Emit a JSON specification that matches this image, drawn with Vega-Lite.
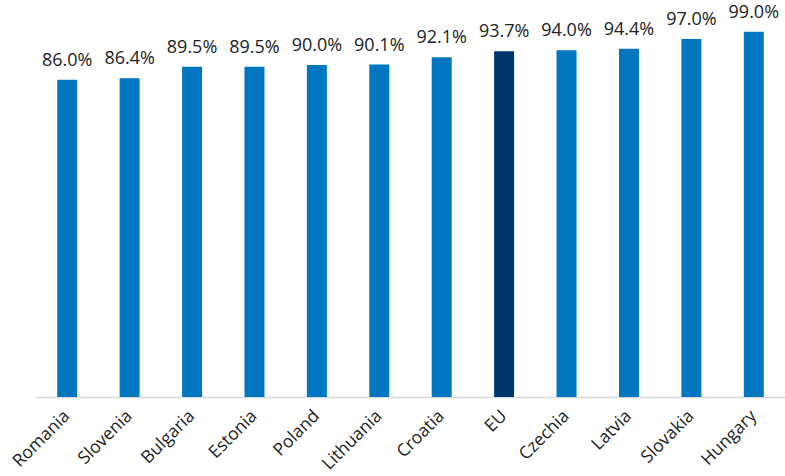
{
  "$schema": "https://vega.github.io/schema/vega-lite/v6.json",
  "autosize": {"type": "none"},
  "width": 749,
  "height": 369,
  "padding": {"left": 36, "top": 28, "right": 0, "bottom": 79},
  "background": "white",
  "config": {"view": {"stroke": null}},
  "data": {"values": [
    {"country": "Romania", "value": 0.860, "eu": false},
    {"country": "Slovenia", "value": 0.864, "eu": false},
    {"country": "Bulgaria", "value": 0.895, "eu": false},
    {"country": "Estonia", "value": 0.895, "eu": false},
    {"country": "Poland", "value": 0.900, "eu": false},
    {"country": "Lithuania", "value": 0.901, "eu": false},
    {"country": "Croatia", "value": 0.921, "eu": false},
    {"country": "EU", "value": 0.937, "eu": true},
    {"country": "Czechia", "value": 0.940, "eu": false},
    {"country": "Latvia", "value": 0.944, "eu": false},
    {"country": "Slovakia", "value": 0.970, "eu": false},
    {"country": "Hungary", "value": 0.990, "eu": false}
  ]},
  "encoding": {
    "x": {"field": "country", "type": "nominal", "sort": null,
      "scale": {"paddingInner": 0.68, "paddingOuter": 0.34},
      "axis": {"title": null, "labelAngle": -45, "labelFontSize": 17.5, "labelFont": "Open Sans", "labelColor": "#222222",
        "ticks": false, "domainColor": "#d9d9d9", "domainWidth": 1.5, "labelPadding": 16, "labelAlign": "right", "labelBaseline": "middle", "labelLimit": 0}},
    "y": {"field": "value", "type": "quantitative", "scale": {"domain": [0, 1], "nice": false}, "axis": null}
  },
  "layer": [
    {"mark": {"type": "bar"},
     "encoding": {"color": {"field": "eu", "type": "nominal", "scale": {"domain": [false, true], "range": ["#0077C0", "#00356F"]}, "legend": null}}},
    {"mark": {"type": "text", "baseline": "alphabetic", "dy": -14, "fontSize": 18, "font": "Open Sans", "color": "#222222"},
     "encoding": {"text": {"field": "value", "type": "quantitative", "format": ".1%"}}}
  ]
}
